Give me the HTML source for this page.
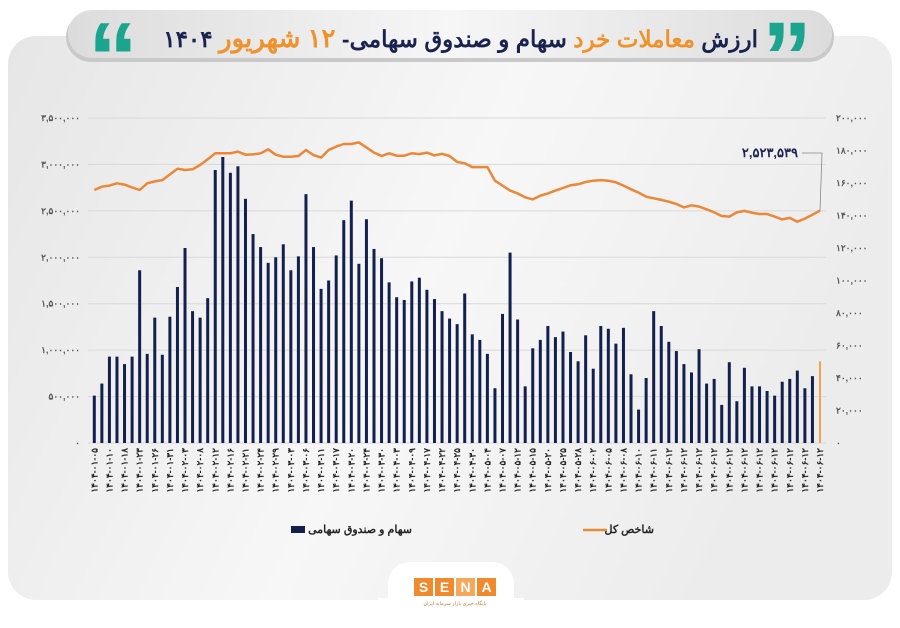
<!DOCTYPE html>
<html><head><meta charset="utf-8">
<style>
html,body{margin:0;padding:0;background:#fff;}
body{width:900px;height:623px;overflow:hidden;font-family:"Liberation Sans","Noto Sans CJK SC",sans-serif;}
svg text{font-family:"Liberation Sans","Noto Sans CJK SC",sans-serif;}
</style></head>
<body>
<svg id="chart" width="900" height="623" viewBox="0 0 900 623" xmlns="http://www.w3.org/2000/svg">
<defs>
<linearGradient id="panelG" x1="0" y1="0" x2="1" y2="0.3">
<stop offset="0" stop-color="#e6e6e6"/><stop offset="0.55" stop-color="#f7f7f7"/><stop offset="1" stop-color="#ececec"/>
</linearGradient>
<linearGradient id="pillG" x1="0" y1="0" x2="1" y2="0">
<stop offset="0" stop-color="#dcdcdc"/><stop offset="0.5" stop-color="#f6f6f6"/><stop offset="1" stop-color="#dcdcdc"/>
</linearGradient>
</defs>
<rect x="8" y="36" width="884" height="564" rx="28" fill="url(#panelG)"/>
<rect x="388" y="562" width="126" height="61" rx="22" fill="#fff"/>
<rect x="378" y="598" width="146" height="25" fill="#fff"/>
<g>
<rect x="66" y="12" width="768" height="50" rx="25" fill="#c9c9c9"/>
<rect x="68" y="10" width="764" height="48" rx="24" fill="url(#pillG)"/>
<text x="88" y="92" font-size="100" font-weight="bold" fill="#1ca58e" font-family="Liberation Serif,serif">“</text>
<text x="762" y="92" font-size="100" font-weight="bold" fill="#1ca58e" font-family="Liberation Serif,serif">”</text>
<text x="758" y="47" text-anchor="start" direction="rtl" font-size="23" font-weight="bold" fill="#1a2350">ارزش <tspan fill="#f0922b">معاملات خرد</tspan> سهام و صندوق سهامی- <tspan fill="#f0922b" font-size="26">۱۲ شهریور</tspan> ۱۴۰۴</text>
</g>
<g id="plot"></g>
<g>
<rect x="291" y="526" width="14" height="7" fill="#13204d"/>
<text x="412" y="533" text-anchor="start" direction="rtl" font-size="11" font-weight="bold" fill="#222">سهام و صندوق سهامی</text>
<line x1="583" y1="530" x2="607" y2="530" stroke="#ec8737" stroke-width="2.5"/>
<text x="654" y="533" text-anchor="start" direction="rtl" font-size="11" font-weight="bold" fill="#222">شاخص کل</text>
</g>
<g>
<rect x="414" y="578" width="19" height="18" fill="#f08a2c"/>
<rect x="435" y="578" width="19" height="18" fill="#f08a2c"/>
<rect x="456" y="578" width="19" height="18" fill="#f5a75a"/>
<rect x="477" y="578" width="19" height="18" fill="#f08a2c"/>
<text x="423.5" y="592" text-anchor="middle" font-size="14" font-weight="bold" fill="#fff">S</text>
<text x="444.5" y="592" text-anchor="middle" font-size="14" font-weight="bold" fill="#fff">E</text>
<text x="465.5" y="592" text-anchor="middle" font-size="14" font-weight="bold" fill="#fff">N</text>
<text x="486.5" y="592" text-anchor="middle" font-size="14" font-weight="bold" fill="#fff">A</text>
<text x="455" y="605" text-anchor="middle" direction="rtl" font-size="5" fill="#c07a3a">پایگاه خبری بازار سرمایه ایران</text>
</g>
</svg>
<script>
const barValues=[0.51,0.64,0.93,0.93,0.85,0.93,1.86,0.96,1.35,0.95,1.36,1.68,2.10,1.42,1.35,1.56,2.94,3.08,2.91,2.98,2.63,2.25,2.11,1.94,2.00,2.14,1.86,2.01,2.68,2.11,1.66,1.75,2.02,2.40,2.61,1.93,2.41,2.09,1.99,1.73,1.57,1.54,1.74,1.78,1.65,1.55,1.42,1.34,1.28,1.61,1.17,1.11,0.96,0.59,1.39,2.05,1.33,0.61,1.02,1.11,1.26,1.14,1.20,0.98,0.88,1.16,0.80,1.26,1.23,1.07,1.24,0.74,0.36,0.70,1.42,1.26,1.09,0.99,0.85,0.76,1.01,0.64,0.69,0.41,0.87,0.45,0.81,0.61,0.61,0.56,0.51,0.66,0.69,0.78,0.59,0.72,0.88];
const indexValues=[155.7,157.7,158.4,159.8,159.0,157.3,155.7,159.8,161.0,161.8,165.3,168.8,168.0,168.4,171.1,174.6,178.3,178.3,178.3,179.3,177.4,177.6,178.3,180.7,177.4,176.2,176.2,176.6,180.3,177.2,175.6,180.3,182.4,184.0,184.0,185.0,181.9,178.7,176.6,178.3,176.8,176.8,178.3,177.8,178.7,177.0,178.0,176.6,172.9,172.1,169.8,169.8,169.8,161.4,158.4,155.3,153.6,151.2,149.9,152.2,153.6,155.3,156.9,158.6,159.2,160.6,161.4,161.8,161.4,160.4,158.4,156.1,154.1,151.6,150.6,149.6,148.5,147.1,145.0,146.3,145.5,143.8,141.9,139.7,139.3,141.9,142.8,141.7,140.9,140.9,139.3,137.6,138.5,136.2,138.1,140.5,143.0];
const dateLabels=["1404-01-05","1404-01-10","1404-01-18","1404-01-23","1404-01-26","1404-01-31","1404-02-03","1404-02-08","1404-02-12","1404-02-16","1404-02-21","1404-02-24","1404-02-29","1404-03-03","1404-03-06","1404-03-11","1404-03-17","1404-03-20","1404-03-24","1404-03-30","1404-04-03","1404-04-09","1404-04-17","1404-04-22","1404-04-25","1404-04-30","1404-05-04","1404-05-07","1404-05-12","1404-05-15","1404-05-20","1404-05-25","1404-05-28","1404-06-02","1404-06-05","1404-06-08","1404-06-10","1404-06-11","1404-06-12","1404-06-12","1404-06-12","1404-06-12","1404-06-12","1404-06-12","1404-06-12","1404-06-12","1404-06-12","1404-06-12","1404-06-12"];
const leftTicks=[0,0.5,1,1.5,2,2.5,3,3.5];
const leftTickLabels=["0","500,000","1,000,000","1,500,000","2,000,000","2,500,000","3,000,000","3,500,000"];
const rightTicks=[0,20,40,60,80,100,120,140,160,180,200];
const rightTickLabels=["0","20,000","40,000","60,000","80,000","100,000","120,000","140,000","160,000","180,000","200,000"];
const annotationText="2,523,539";

const NS="http://www.w3.org/2000/svg";
const fa=s=>String(s).replace(/\d/g,d=>"۰۱۲۳۴۵۶۷۸۹"[d]);
const plot=document.getElementById('plot');
const y0=443,y1=118,xFirst=94.3,xLast=820;
const yL=v=>y0-(v/3.5)*(y0-y1);
const yR=v=>y0-(v/200)*(y0-y1);
const n=barValues.length;
const xB=i=>xFirst+i*(xLast-xFirst)/(n-1);
function mk(tag,attrs){const e=document.createElementNS(NS,tag);for(const k in attrs)e.setAttribute(k,attrs[k]);plot.appendChild(e);return e;}

leftTicks.forEach((t,i)=>{
  const g=mk('line',{x1:88,x2:826,y1:yL(t),y2:yL(t),stroke:'#d9d9d9','stroke-width':1});
  
  
  const tx=mk('text',{x:80,y:yL(t)+3,'text-anchor':'end','font-size':9,'font-weight':'bold',fill:'#555'});
  tx.textContent=fa(leftTickLabels[i]);
  
  
});
rightTicks.forEach((t,i)=>{
  const tx=mk('text',{x:836,y:yR(t)+3,'text-anchor':'start','font-size':9,'font-weight':'bold',fill:'#555'});
  tx.textContent=fa(rightTickLabels[i]);
  
  
});
barValues.forEach((v,i)=>{
  const last=i===n-1;
  const r=mk('rect',{x:xB(i)-(last?1:1.5),y:yL(v),width:last?2:3,height:y0-yL(v),fill:last?'#f0a450':'#13204d'});
  
  
});
dateLabels.forEach((d,k)=>{
  const i=k*2; if(i>=n)return;
  const x=xB(i)+3,y=448;
  const t=mk('text',{x:x,y:y,transform:`rotate(-90 ${x} ${y})`,'text-anchor':'end','font-size':9,'font-weight':'bold',fill:'#222'});
  t.textContent=fa(d);
  
  
});
const pts=indexValues.map((v,i)=>xB(i).toFixed(1)+','+yR(v).toFixed(1)).join(' ');
const pl=mk('polyline',{points:pts,fill:'none',stroke:'#ec8737','stroke-width':2.5,'stroke-linejoin':'round'});


const lx=xB(n-1),ly=yR(indexValues[n-1]);
const ld=mk('polyline',{points:`802,153 ${lx+2},153 ${lx},${ly}`,fill:'none',stroke:'#888','stroke-width':0.8});


const at=mk('text',{x:798,y:157,'text-anchor':'end','font-size':13,'font-weight':'bold',fill:'#1a2350'});
at.textContent=fa(annotationText);


</script>
</body></html>
